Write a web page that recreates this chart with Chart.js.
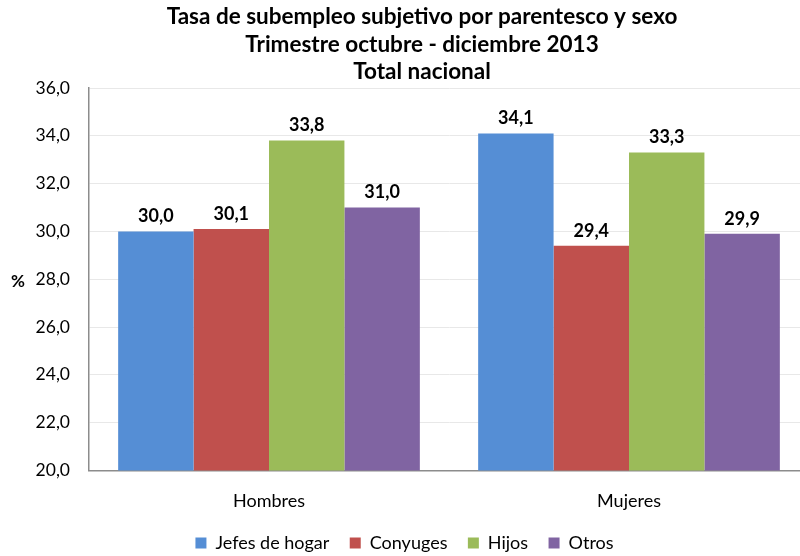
<!DOCTYPE html>
<html>
<head>
<meta charset="utf-8">
<script src="https://cdn.jsdelivr.net/npm/chart.js@4/dist/chart.umd.min.js"></script>
<style>
html,body{margin:0;padding:0;background:#fff;overflow:hidden;}
#wrap{width:800px;height:556px;position:relative;overflow:hidden;}
#c{display:block;}
</style>
</head>
<body>
<div id="wrap"><canvas id="c" width="809" height="556" style="width:809px;height:556px"></canvas></div>
<script>
const categories = ["Hombres", "Mujeres"];
const seriesNames = ["Jefes de hogar", "Conyuges", "Hijos", "Otros"];
const jefesDeHogar = [30.0, 34.1];
const conyuges = [30.1, 29.4];
const hijos = [33.8, 33.3];
const otros = [31.0, 29.9];
const titleLines = ["Tasa de subempleo subjetivo por parentesco y sexo", "Trimestre octubre - diciembre 2013", "Total nacional"];
const yMin = 20, yMax = 36, yStep = 2;

const colors = ["#558ED5", "#C0504D", "#9BBB59", "#8064A2"];
const FONT = "Lato, 'Open Sans', sans-serif";
const fmt = v => v.toFixed(1).replace('.', ',');

const labelPlugin = {
  id: 'barLabels',
  afterDatasetsDraw(chart) {
    const ctx = chart.ctx;
    ctx.save();
    ctx.font = "bold 18px " + FONT;
    ctx.fillStyle = "#000";
    ctx.textAlign = "center";
    ctx.textBaseline = "bottom";
    chart.data.datasets.forEach((ds, i) => {
      const meta = chart.getDatasetMeta(i);
      meta.data.forEach((bar, j) => {
        ctx.fillText(fmt(ds.data[j]), bar.x, bar.y - 6);
      });
    });
    const a = chart.chartArea;
    ctx.font = "bold 17px " + FONT;
    ctx.textAlign = "center";
    ctx.textBaseline = "middle";
    ctx.fillText("%", 18, (a.top + a.bottom) / 2 + 2);
    ctx.font = "bold 22.5px " + FONT;
    ctx.textBaseline = "middle";
    titleLines.forEach((t, i) => ctx.fillText(t, 422, 17 + i * 27.5));
    ctx.restore();
  }
};

new Chart(document.getElementById('c'), {
  type: 'bar',
  data: {
    labels: categories,
    datasets: [
      { label: seriesNames[0], data: jefesDeHogar, backgroundColor: colors[0] },
      { label: seriesNames[1], data: conyuges, backgroundColor: colors[1] },
      { label: seriesNames[2], data: hijos, backgroundColor: colors[2] },
      { label: seriesNames[3], data: otros, backgroundColor: colors[3] }
    ]
  },
  options: {
    responsive: false,
    animation: false,
    devicePixelRatio: 1,
    datasets: { bar: { categoryPercentage: 0.838, barPercentage: 1.0 } },
    layout: { padding: { left: 0, right: 0, top: 88, bottom: -6 } },
    plugins: {
      title: { display: false },
      legend: {
        position: 'bottom',
        labels: {
          color: "#000",
          font: { family: FONT, size: 18 },
          boxWidth: 11, boxHeight: 11, padding: 2,
          generateLabels(chart) {
            const items = Chart.defaults.plugins.legend.labels.generateLabels(chart);
            items.forEach((it, i) => { if (i < items.length - 1) it.text = it.text + "    "; });
            return items;
          }
        }
      },
      tooltip: { enabled: false }
    },
    scales: {
      x: {
        grid: { display: false, drawTicks: false },
        border: { display: true, color: "#8c8c8c", width: 1.5 },
        ticks: { color: "#000", font: { family: FONT, size: 18 }, padding: 20 }
      },
      y: {
        min: yMin, max: yMax,
        afterFit(scale) { scale.width = 89; },
        grid: { color: "#e8e8e8", drawTicks: false, lineWidth: 1 },
        border: { display: true, color: "#8c8c8c", width: 1.5 },
        ticks: {
          stepSize: yStep, color: "#000", padding: 19,
          font: { family: FONT, size: 17.5 },
          callback: v => fmt(v)
        }
      }
    }
  },
  plugins: [labelPlugin]
});
</script>
</body>
</html>
